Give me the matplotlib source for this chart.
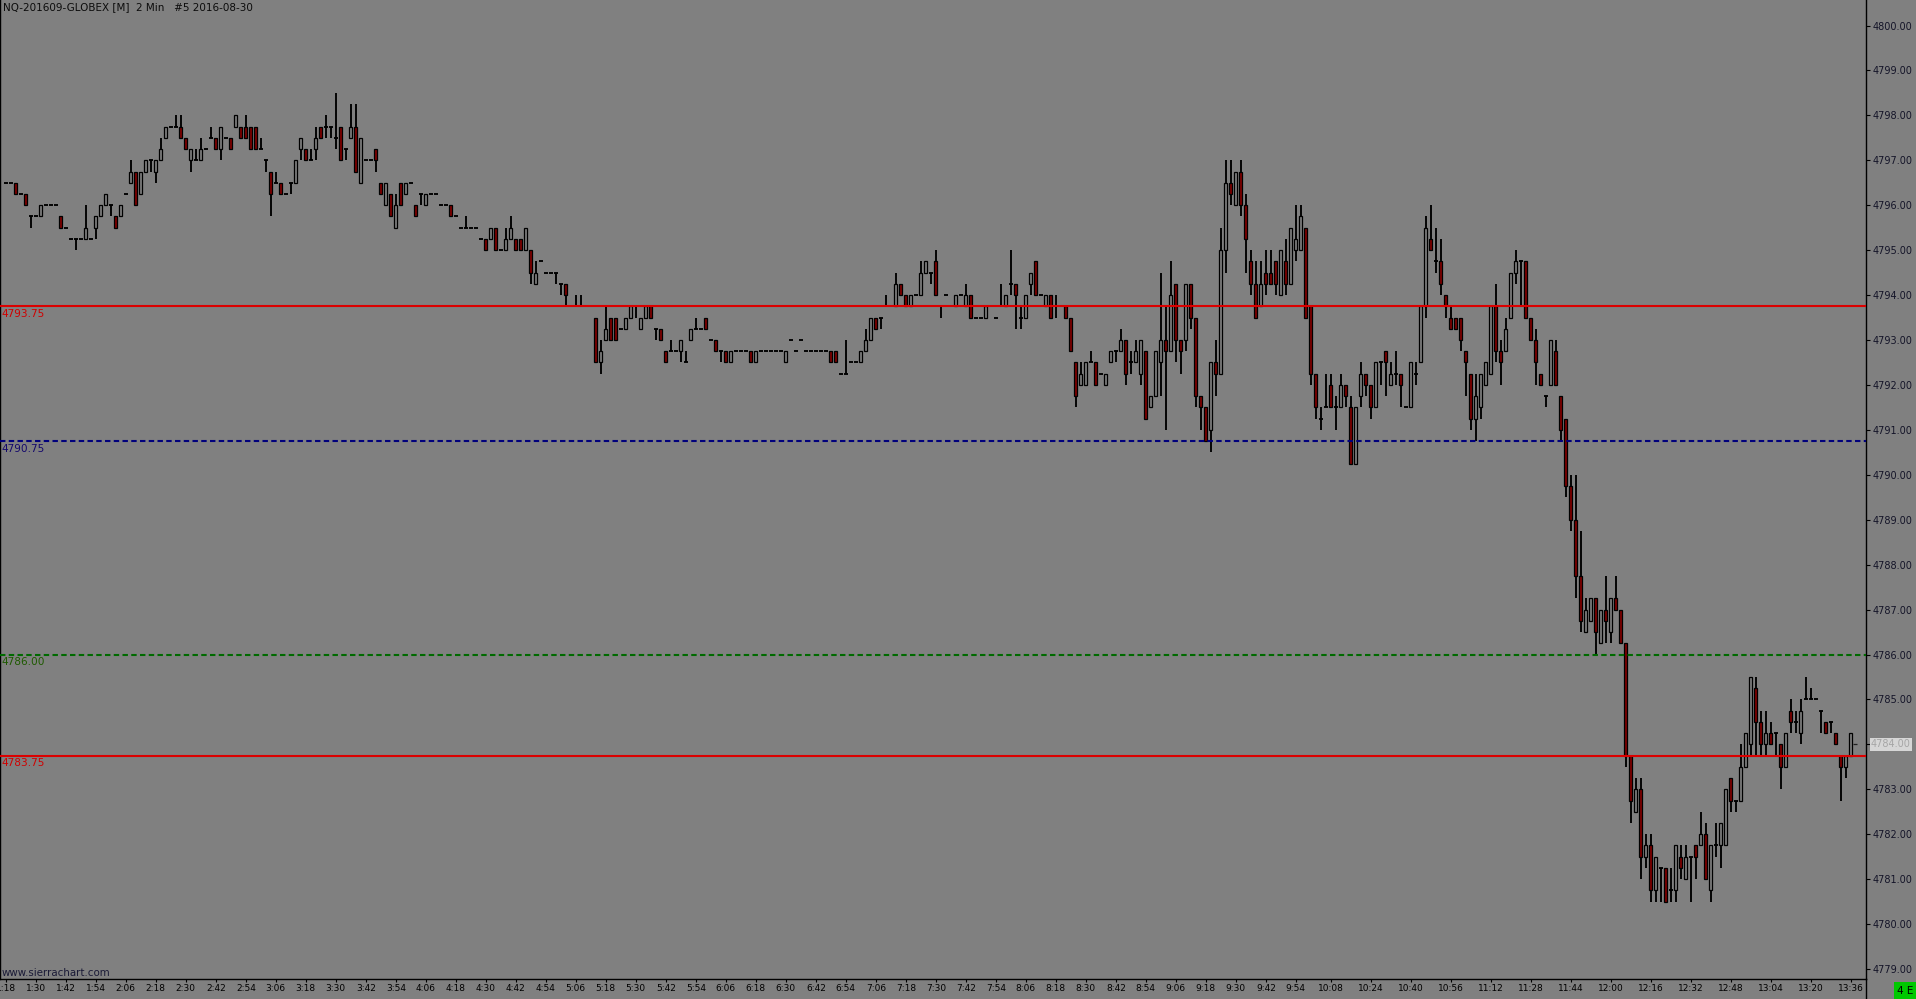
import matplotlib
matplotlib.use('Agg')
import matplotlib.pyplot as plt
from matplotlib.patches import Rectangle
from matplotlib.lines import Line2D
import numpy as np

title = 'NQ-201609-GLOBEX [M]  2 Min   #5 2016-08-30'
first_bar_time = '1:18'
bar_minutes = 2

opens = [
    4796.50, 4796.50, 4796.50, 4796.25, 4796.25, 4795.75, 4795.75, 4795.75, 4796.00, 4796.00,
    4796.00, 4795.75, 4795.50, 4795.25, 4795.25, 4795.25, 4795.25, 4795.25, 4795.50, 4795.75,
    4796.00, 4796.00, 4795.75, 4795.75, 4796.25, 4796.50, 4796.75, 4796.25, 4796.75, 4797.00,
    4796.75, 4797.00, 4797.50, 4797.75, 4797.75, 4797.75, 4797.50, 4797.00, 4797.00, 4797.00,
    4797.25, 4797.50, 4797.50, 4797.25, 4797.50, 4797.50, 4797.75, 4797.75, 4797.75, 4797.75,
    4797.75, 4797.25, 4797.00, 4796.75, 4796.50, 4796.50, 4796.25, 4796.50, 4796.50, 4797.25,
    4797.25, 4797.00, 4797.25, 4797.75, 4797.75, 4797.75, 4797.50, 4797.75, 4797.25, 4797.50,
    4797.75, 4796.50, 4797.00, 4797.00, 4797.25, 4796.50, 4796.00, 4796.25, 4795.50, 4796.50,
    4796.25, 4796.50, 4796.00, 4796.25, 4796.00, 4796.25, 4796.25, 4796.00, 4796.00, 4796.00,
    4795.75, 4795.50, 4795.50, 4795.50, 4795.50, 4795.25, 4795.25, 4795.25, 4795.50, 4795.00,
    4795.00, 4795.25, 4795.25, 4795.25, 4795.00, 4795.00, 4794.25, 4794.75, 4794.50, 4794.50,
    4794.50, 4794.25, 4794.25, 4793.75, 4793.75, 4793.75, 4793.75, 4793.75, 4793.50, 4792.50,
    4793.00, 4793.50, 4793.50, 4793.25, 4793.25, 4793.50, 4793.75, 4793.25, 4793.50, 4793.75,
    4793.25, 4793.25, 4792.75, 4792.75, 4792.75, 4792.75, 4792.50, 4793.00, 4793.25, 4793.25,
    4793.50, 4793.00, 4793.00, 4792.75, 4792.75, 4792.50, 4792.75, 4792.75, 4792.75, 4792.75,
    4792.50, 4792.75, 4792.75, 4792.75, 4792.75, 4792.75, 4792.50, 4793.00, 4792.75, 4793.00,
    4792.75, 4792.75, 4792.75, 4792.75, 4792.75, 4792.75, 4792.75, 4792.25, 4792.25, 4792.50,
    4792.50, 4792.50, 4792.75, 4793.00, 4793.50, 4793.50, 4793.75, 4793.75, 4793.75, 4794.25,
    4794.00, 4793.75, 4794.00, 4794.00, 4794.50, 4794.50, 4794.75, 4793.75, 4794.00, 4793.75,
    4793.75, 4794.00, 4793.75, 4794.00, 4793.50, 4793.50, 4793.50, 4793.75, 4793.50, 4793.75,
    4793.75, 4794.25, 4794.25, 4793.50, 4793.50, 4794.25, 4794.75, 4794.00, 4793.75, 4794.00,
    4793.75, 4793.75, 4793.75, 4793.50, 4792.50, 4792.00, 4792.00, 4792.50, 4792.50, 4792.25,
    4792.00, 4792.50, 4792.75, 4792.75, 4793.00, 4792.50, 4792.50, 4792.25, 4792.75, 4791.50,
    4791.75, 4792.50, 4793.00, 4792.75, 4794.25, 4793.00, 4793.00, 4794.25, 4793.50, 4791.75,
    4791.50, 4791.00, 4792.50, 4792.25, 4795.00, 4796.50, 4796.00, 4796.75, 4796.00, 4794.75,
    4794.25, 4793.75, 4794.50, 4794.50, 4794.75, 4794.00, 4794.75, 4794.25, 4795.00, 4795.00,
    4795.50, 4793.75, 4792.25, 4791.25, 4791.50, 4792.00, 4791.50, 4791.50, 4792.00, 4791.50,
    4790.25, 4791.75, 4792.25, 4792.00, 4791.50, 4792.50, 4792.75, 4792.00, 4792.25, 4792.25,
    4791.50, 4791.50, 4792.25, 4792.50, 4793.75, 4795.25, 4794.75, 4794.75, 4794.00, 4793.50,
    4793.50, 4793.50, 4792.75, 4792.25, 4791.25, 4791.50, 4792.00, 4792.25, 4793.75, 4792.75,
    4792.75, 4793.50, 4794.50, 4794.75, 4794.75, 4793.50, 4793.00, 4792.25, 4791.75, 4792.00,
    4792.75, 4791.75, 4791.25, 4789.75, 4789.00, 4787.75, 4786.50, 4786.75, 4787.25, 4786.25,
    4787.00, 4786.50, 4787.25, 4787.00, 4786.25, 4783.75, 4782.50, 4783.00, 4781.50, 4781.75,
    4780.75, 4781.25, 4781.25, 4780.75, 4780.75, 4781.50, 4781.00, 4781.50, 4781.75, 4781.75,
    4782.00, 4780.75, 4781.75, 4781.75, 4781.75, 4783.25, 4782.75, 4782.75, 4783.50, 4784.00,
    4785.25, 4784.50, 4784.00, 4784.25, 4784.25, 4784.00, 4783.50, 4784.75, 4784.50, 4784.25,
    4785.00, 4785.00, 4785.00, 4784.75, 4784.50, 4784.50, 4784.25, 4783.75, 4783.50, 4783.75,
]

highs = [
    4796.50, 4796.50, 4796.50, 4796.25, 4796.25, 4795.75, 4795.75, 4796.00, 4796.00, 4796.00,
    4796.00, 4795.75, 4795.50, 4795.25, 4795.25, 4795.25, 4796.00, 4795.25, 4795.75, 4796.00,
    4796.25, 4796.00, 4795.75, 4796.00, 4796.25, 4797.00, 4796.75, 4796.75, 4797.00, 4797.00,
    4797.00, 4797.50, 4797.75, 4797.75, 4798.00, 4798.00, 4797.50, 4797.25, 4797.25, 4797.50,
    4797.25, 4797.75, 4797.50, 4797.75, 4797.50, 4797.50, 4798.00, 4797.75, 4798.00, 4797.75,
    4797.75, 4797.50, 4797.00, 4796.75, 4796.75, 4796.50, 4796.25, 4796.50, 4797.00, 4797.50,
    4797.25, 4797.25, 4797.75, 4797.75, 4798.00, 4797.75, 4798.50, 4797.75, 4797.25, 4798.25,
    4798.25, 4797.50, 4797.00, 4797.00, 4797.25, 4796.50, 4796.50, 4796.25, 4796.25, 4796.50,
    4796.50, 4796.50, 4796.00, 4796.25, 4796.25, 4796.25, 4796.25, 4796.00, 4796.00, 4796.00,
    4795.75, 4795.50, 4795.75, 4795.50, 4795.50, 4795.25, 4795.25, 4795.50, 4795.50, 4795.00,
    4795.50, 4795.75, 4795.25, 4795.25, 4795.50, 4795.00, 4794.75, 4794.75, 4794.50, 4794.50,
    4794.50, 4794.25, 4794.25, 4793.75, 4794.00, 4794.00, 4793.75, 4793.75, 4793.50, 4793.00,
    4793.75, 4793.50, 4793.50, 4793.25, 4793.50, 4793.75, 4793.75, 4793.50, 4793.75, 4793.75,
    4793.25, 4793.25, 4792.75, 4793.00, 4792.75, 4793.00, 4792.75, 4793.25, 4793.50, 4793.25,
    4793.50, 4793.00, 4793.00, 4792.75, 4792.75, 4792.75, 4792.75, 4792.75, 4792.75, 4792.75,
    4792.75, 4792.75, 4792.75, 4792.75, 4792.75, 4792.75, 4792.75, 4793.00, 4792.75, 4793.00,
    4792.75, 4792.75, 4792.75, 4792.75, 4792.75, 4792.75, 4792.75, 4792.25, 4793.00, 4792.50,
    4792.50, 4792.75, 4793.25, 4793.50, 4793.50, 4793.50, 4794.00, 4793.75, 4794.50, 4794.25,
    4794.00, 4794.00, 4794.00, 4794.75, 4794.75, 4794.50, 4795.00, 4793.75, 4794.00, 4793.75,
    4794.00, 4794.00, 4794.25, 4794.00, 4793.50, 4793.50, 4793.75, 4793.75, 4793.50, 4794.25,
    4794.00, 4795.00, 4794.25, 4793.75, 4794.00, 4794.50, 4794.75, 4794.00, 4794.00, 4794.00,
    4794.00, 4793.75, 4793.75, 4793.50, 4792.50, 4792.50, 4792.50, 4792.75, 4792.50, 4792.25,
    4792.25, 4792.75, 4792.75, 4793.25, 4793.00, 4792.75, 4793.00, 4793.00, 4792.75, 4791.75,
    4792.75, 4794.50, 4793.75, 4794.75, 4794.25, 4793.00, 4794.25, 4794.25, 4793.50, 4791.75,
    4791.50, 4792.50, 4793.00, 4795.50, 4797.00, 4797.00, 4796.75, 4797.00, 4796.25, 4795.00,
    4794.75, 4794.75, 4795.00, 4795.00, 4794.75, 4795.00, 4795.25, 4795.50, 4796.00, 4796.00,
    4795.50, 4793.75, 4792.25, 4791.50, 4792.25, 4792.25, 4791.75, 4792.25, 4792.00, 4791.75,
    4791.50, 4792.50, 4792.25, 4792.00, 4792.50, 4792.50, 4792.75, 4792.50, 4792.75, 4792.25,
    4791.50, 4792.50, 4792.50, 4793.75, 4795.75, 4796.00, 4795.50, 4795.25, 4794.00, 4793.75,
    4793.50, 4793.50, 4792.75, 4792.25, 4792.25, 4792.25, 4792.50, 4793.75, 4794.25, 4793.00,
    4793.50, 4794.50, 4795.00, 4794.75, 4794.75, 4793.50, 4793.25, 4792.25, 4791.75, 4793.00,
    4793.00, 4791.75, 4791.25, 4790.00, 4790.00, 4788.75, 4787.25, 4787.25, 4787.25, 4787.00,
    4787.75, 4787.25, 4787.75, 4787.00, 4786.25, 4783.75, 4783.25, 4783.25, 4782.00, 4782.00,
    4781.50, 4781.25, 4781.25, 4781.25, 4781.75, 4781.75, 4781.75, 4781.50, 4781.75, 4782.50,
    4782.25, 4781.75, 4782.25, 4782.25, 4783.00, 4783.25, 4782.75, 4784.00, 4784.25, 4785.50,
    4785.50, 4784.75, 4784.75, 4784.50, 4784.25, 4784.00, 4784.25, 4785.00, 4784.75, 4785.00,
    4785.50, 4785.25, 4785.00, 4784.75, 4784.50, 4784.50, 4784.25, 4783.75, 4783.75, 4784.25,
]

lows = [
    4796.50, 4796.50, 4796.25, 4796.25, 4796.00, 4795.50, 4795.75, 4795.75, 4796.00, 4796.00,
    4796.00, 4795.50, 4795.50, 4795.25, 4795.00, 4795.25, 4795.25, 4795.25, 4795.25, 4795.75,
    4796.00, 4795.75, 4795.50, 4795.75, 4796.25, 4796.50, 4796.00, 4796.25, 4796.75, 4796.75,
    4796.50, 4797.00, 4797.50, 4797.75, 4797.75, 4797.50, 4797.25, 4796.75, 4797.00, 4797.00,
    4797.25, 4797.50, 4797.25, 4797.00, 4797.50, 4797.25, 4797.75, 4797.50, 4797.50, 4797.25,
    4797.25, 4797.25, 4796.75, 4795.75, 4796.50, 4796.25, 4796.25, 4796.25, 4796.50, 4797.00,
    4797.00, 4797.00, 4797.00, 4797.50, 4797.50, 4797.50, 4797.25, 4797.00, 4797.00, 4797.50,
    4796.75, 4796.50, 4797.00, 4797.00, 4796.75, 4796.25, 4796.00, 4795.75, 4795.50, 4796.00,
    4796.25, 4796.50, 4795.75, 4796.00, 4796.00, 4796.25, 4796.25, 4796.00, 4796.00, 4795.75,
    4795.75, 4795.50, 4795.50, 4795.50, 4795.50, 4795.25, 4795.00, 4795.25, 4795.00, 4795.00,
    4795.00, 4795.25, 4795.00, 4795.00, 4795.00, 4794.25, 4794.25, 4794.75, 4794.50, 4794.50,
    4794.25, 4794.00, 4793.75, 4793.75, 4793.75, 4793.75, 4793.75, 4793.75, 4792.50, 4792.25,
    4793.00, 4793.00, 4793.00, 4793.25, 4793.25, 4793.50, 4793.50, 4793.25, 4793.50, 4793.50,
    4793.00, 4793.00, 4792.50, 4792.75, 4792.75, 4792.50, 4792.50, 4793.00, 4793.25, 4793.25,
    4793.25, 4793.00, 4792.75, 4792.50, 4792.50, 4792.50, 4792.75, 4792.75, 4792.75, 4792.50,
    4792.50, 4792.75, 4792.75, 4792.75, 4792.75, 4792.75, 4792.50, 4793.00, 4792.75, 4793.00,
    4792.75, 4792.75, 4792.75, 4792.75, 4792.75, 4792.50, 4792.50, 4792.25, 4792.25, 4792.50,
    4792.50, 4792.50, 4792.75, 4793.00, 4793.25, 4793.25, 4793.75, 4793.75, 4793.75, 4794.00,
    4793.75, 4793.75, 4794.00, 4794.00, 4794.50, 4794.25, 4794.00, 4793.50, 4794.00, 4793.75,
    4793.75, 4794.00, 4793.75, 4793.50, 4793.50, 4793.50, 4793.50, 4793.75, 4793.50, 4793.75,
    4793.75, 4794.00, 4793.25, 4793.25, 4793.50, 4794.00, 4794.00, 4794.00, 4793.75, 4793.50,
    4793.50, 4793.75, 4793.50, 4792.75, 4791.50, 4792.00, 4792.00, 4792.50, 4792.00, 4792.25,
    4792.00, 4792.50, 4792.50, 4792.75, 4792.00, 4792.25, 4792.50, 4792.00, 4791.25, 4791.50,
    4791.75, 4791.75, 4791.00, 4792.75, 4792.50, 4792.25, 4792.75, 4793.25, 4791.50, 4791.00,
    4790.75, 4790.50, 4791.75, 4792.25, 4794.50, 4796.00, 4796.00, 4795.75, 4794.50, 4794.00,
    4793.50, 4793.75, 4794.00, 4794.25, 4794.00, 4794.00, 4794.00, 4794.25, 4794.75, 4795.00,
    4793.50, 4792.00, 4791.25, 4791.00, 4791.50, 4791.50, 4791.00, 4791.50, 4791.50, 4790.25,
    4790.25, 4791.50, 4791.75, 4791.25, 4791.50, 4792.00, 4791.75, 4792.00, 4792.00, 4791.50,
    4791.50, 4791.50, 4792.00, 4792.50, 4793.50, 4795.00, 4794.50, 4794.00, 4793.50, 4793.25,
    4793.25, 4792.75, 4791.75, 4791.00, 4790.75, 4791.25, 4792.00, 4792.25, 4792.50, 4792.00,
    4792.75, 4793.50, 4794.25, 4793.75, 4793.50, 4793.00, 4792.00, 4792.00, 4791.50, 4792.00,
    4792.00, 4790.75, 4789.50, 4788.75, 4787.25, 4786.50, 4786.50, 4786.75, 4786.00, 4786.25,
    4786.25, 4786.25, 4787.00, 4786.25, 4783.50, 4782.25, 4782.50, 4781.00, 4781.25, 4780.50,
    4780.50, 4780.50, 4780.50, 4780.50, 4780.50, 4781.00, 4781.00, 4780.50, 4781.00, 4781.75,
    4781.00, 4780.50, 4781.50, 4781.25, 4781.75, 4782.50, 4782.50, 4782.75, 4783.50, 4783.75,
    4783.75, 4783.75, 4783.75, 4784.00, 4783.75, 4783.00, 4783.50, 4784.25, 4784.25, 4784.00,
    4785.00, 4785.00, 4785.00, 4784.25, 4784.25, 4784.25, 4784.00, 4782.75, 4783.25, 4783.75,
]

closes = [
    4796.50, 4796.50, 4796.25, 4796.25, 4796.00, 4795.75, 4795.75, 4796.00, 4796.00, 4796.00,
    4796.00, 4795.50, 4795.50, 4795.25, 4795.25, 4795.25, 4795.50, 4795.25, 4795.75, 4796.00,
    4796.25, 4796.00, 4795.50, 4796.00, 4796.25, 4796.75, 4796.00, 4796.75, 4797.00, 4797.00,
    4797.00, 4797.25, 4797.75, 4797.75, 4797.75, 4797.50, 4797.25, 4797.25, 4797.00, 4797.25,
    4797.25, 4797.50, 4797.25, 4797.75, 4797.50, 4797.25, 4798.00, 4797.50, 4797.50, 4797.25,
    4797.25, 4797.25, 4797.00, 4796.25, 4796.50, 4796.25, 4796.25, 4796.50, 4797.00, 4797.50,
    4797.00, 4797.00, 4797.50, 4797.50, 4797.75, 4797.75, 4797.50, 4797.00, 4797.25, 4797.75,
    4796.75, 4797.50, 4797.00, 4797.00, 4797.00, 4796.25, 4796.50, 4795.75, 4796.00, 4796.00,
    4796.50, 4796.50, 4795.75, 4796.25, 4796.25, 4796.25, 4796.25, 4796.00, 4796.00, 4795.75,
    4795.75, 4795.50, 4795.50, 4795.50, 4795.50, 4795.25, 4795.00, 4795.50, 4795.00, 4795.00,
    4795.25, 4795.50, 4795.00, 4795.00, 4795.50, 4794.50, 4794.50, 4794.75, 4794.50, 4794.50,
    4794.50, 4794.25, 4794.00, 4793.75, 4793.75, 4793.75, 4793.75, 4793.75, 4792.50, 4792.75,
    4793.25, 4793.00, 4793.00, 4793.25, 4793.50, 4793.75, 4793.75, 4793.50, 4793.75, 4793.50,
    4793.25, 4793.00, 4792.50, 4792.75, 4792.75, 4793.00, 4792.50, 4793.25, 4793.25, 4793.25,
    4793.25, 4793.00, 4792.75, 4792.75, 4792.50, 4792.75, 4792.75, 4792.75, 4792.75, 4792.50,
    4792.75, 4792.75, 4792.75, 4792.75, 4792.75, 4792.75, 4792.75, 4793.00, 4792.75, 4793.00,
    4792.75, 4792.75, 4792.75, 4792.75, 4792.75, 4792.50, 4792.50, 4792.25, 4792.25, 4792.50,
    4792.50, 4792.75, 4793.00, 4793.50, 4793.25, 4793.50, 4793.75, 4793.75, 4794.25, 4794.00,
    4793.75, 4794.00, 4794.00, 4794.50, 4794.75, 4794.50, 4794.00, 4793.75, 4794.00, 4793.75,
    4794.00, 4794.00, 4794.00, 4793.50, 4793.50, 4793.50, 4793.75, 4793.75, 4793.50, 4793.75,
    4794.00, 4794.25, 4794.00, 4793.50, 4794.00, 4794.50, 4794.00, 4794.00, 4794.00, 4793.50,
    4793.75, 4793.75, 4793.50, 4792.75, 4791.75, 4792.25, 4792.50, 4792.50, 4792.00, 4792.25,
    4792.25, 4792.75, 4792.75, 4793.00, 4792.25, 4792.50, 4792.75, 4793.00, 4791.25, 4791.75,
    4792.75, 4793.00, 4792.75, 4794.00, 4793.00, 4792.75, 4794.25, 4793.50, 4791.75, 4791.50,
    4790.75, 4792.50, 4792.25, 4795.00, 4796.50, 4796.25, 4796.75, 4796.00, 4795.25, 4794.25,
    4793.50, 4794.25, 4794.25, 4794.25, 4794.25, 4795.00, 4794.25, 4795.50, 4795.25, 4795.75,
    4793.50, 4792.25, 4791.50, 4791.25, 4791.50, 4791.50, 4791.50, 4792.00, 4791.75, 4790.25,
    4791.50, 4792.25, 4792.00, 4791.50, 4792.50, 4792.50, 4792.50, 4792.25, 4792.25, 4792.00,
    4791.50, 4792.50, 4792.25, 4793.75, 4795.50, 4795.00, 4794.75, 4794.25, 4793.75, 4793.25,
    4793.25, 4793.00, 4792.50, 4791.25, 4791.75, 4792.25, 4792.50, 4793.75, 4792.75, 4792.50,
    4793.25, 4794.50, 4794.75, 4794.75, 4793.50, 4793.00, 4792.50, 4792.00, 4791.75, 4793.00,
    4792.00, 4791.00, 4789.75, 4789.00, 4787.75, 4786.75, 4787.00, 4787.25, 4786.50, 4787.00,
    4786.75, 4787.25, 4787.00, 4786.25, 4783.75, 4782.75, 4783.00, 4781.50, 4781.75, 4780.75,
    4781.50, 4781.25, 4780.50, 4780.75, 4781.75, 4781.25, 4781.50, 4781.50, 4781.50, 4782.00,
    4781.00, 4781.75, 4781.75, 4782.25, 4783.00, 4782.75, 4782.75, 4783.50, 4784.25, 4785.50,
    4784.50, 4784.00, 4784.25, 4784.00, 4784.25, 4783.50, 4784.25, 4784.50, 4784.50, 4784.75,
    4785.00, 4785.00, 4785.00, 4784.75, 4784.25, 4784.50, 4784.00, 4783.50, 4783.75, 4784.25,
]

time_labels = [
    '1:18', '1:30', '1:42', '1:54', '2:06', '2:18', '2:30', '2:42', '2:54', '3:06',
    '3:18', '3:30', '3:42', '3:54', '4:06', '4:18', '4:30', '4:42', '4:54', '5:06',
    '5:18', '5:30', '5:42', '5:54', '6:06', '6:18', '6:30', '6:42', '6:54', '7:06',
    '7:18', '7:30', '7:42', '7:54', '8:06', '8:18', '8:30', '8:42', '8:54', '9:06',
    '9:18', '9:30', '9:42', '9:54', '10:08', '10:24', '10:40', '10:56', '11:12', '11:28',
    '11:44', '12:00', '12:16', '12:32', '12:48', '13:04', '13:20', '13:36',
]

price_ticks = [4779, 4780, 4781, 4782, 4783, 4784, 4785, 4786, 4787, 4788, 4789,
               4790, 4791, 4792, 4793, 4794, 4795, 4796, 4797, 4798, 4799, 4800]

level_prices = [4793.75, 4790.75, 4786.00, 4783.75]
last_price = 4784.00

# styles
BG = '#808080'
DOWN = '#800000'
level_styles = [
    dict(color='#dc0000', ls='-', text='#d00000'),
    dict(color='#00007c', ls=(0, (2.6, 1.6)), text='#14086c'),
    dict(color='#006a00', ls=(0, (2.6, 1.6)), text='#1e5a00'),
    dict(color='#dc0000', ls='-', text='#d00000'),
]

W, H = 1916, 999
AX_RIGHT = 1866
AX_BOTTOM = 979
PX_PER_BAR = 5.0
FIRST_X = 5.83
PX_PER_POINT = 44.93
Y_4800 = 25.5


def to_minutes(t):
    hh, mm = t.split(':')
    return int(hh) * 60 + int(mm)


o = np.array(opens)
h = np.array(highs)
l = np.array(lows)
c = np.array(closes)
x = np.arange(len(o))

fig = plt.figure(figsize=(W / 100, H / 100), dpi=100, facecolor=BG)
ax = fig.add_axes([0, (H - AX_BOTTOM) / H, AX_RIGHT / W, AX_BOTTOM / H], facecolor=BG)

# candles
wick = h > l
ax.vlines(x[wick], l[wick], h[wick], color='black', lw=1.35, zorder=2)
body = c != o
fills = np.where(c > o, BG, DOWN)
ax.bar(x[body], np.abs(c - o)[body], bottom=np.minimum(o, c)[body], width=0.66,
       color=fills[body], edgecolor='black', linewidth=0.9, zorder=3)
doji = ~body
ax.hlines(o[doji], x[doji] - 0.42, x[doji] + 0.42, color='black', lw=1.35, zorder=3)

# horizontal levels
for price, st in zip(level_prices, level_styles):
    ax.axhline(price, color=st['color'], lw=1.5, ls=st['ls'], zorder=4)
    ax.annotate(f'{price:.2f}', xy=(0, price), xycoords=('axes fraction', 'data'),
                xytext=(1.2, -2.0), textcoords='offset points', ha='left', va='top',
                fontsize=7.6, color=st['text'], zorder=5)

# current price tick and label
ax.hlines(last_price, x[-1] + 0.5, x[-1] + 1.25, color='#202020', lw=0.9, zorder=4)
ax.annotate(f'{last_price:.2f}', xy=(1, last_price), xycoords=('axes fraction', 'data'),
            xytext=(3.6, 0), textcoords='offset points', ha='left', va='center',
            fontsize=7, color='#a6a6a6', annotation_clip=False, zorder=6,
            bbox=dict(boxstyle='square,pad=0.12', fc='#d6d6d6', ec='none'))

# limits from pixel geometry
x_left = (0 - FIRST_X) / PX_PER_BAR
x_right = (AX_RIGHT - FIRST_X) / PX_PER_BAR
y_top = 4800 + Y_4800 / PX_PER_POINT
y_bottom = 4800 - (AX_BOTTOM - Y_4800) / PX_PER_POINT
ax.set_xlim(x_left, x_right)
ax.set_ylim(y_bottom, y_top)

# right price axis
ax.yaxis.tick_right()
ax.set_yticks(price_ticks)
ax.set_yticklabels(['' if p == last_price else f'{p:.2f}' for p in price_ticks])
ax.tick_params(axis='y', direction='out', length=3, width=0.8, pad=1.5,
               labelsize=7, color='black', labelcolor='#141428')

# time axis
start = to_minutes(first_bar_time)
tick_pos = [(to_minutes(t) - start) / bar_minutes for t in time_labels]
ax.set_xticks(tick_pos)
ax.set_xticklabels(time_labels)
ax.tick_params(axis='x', direction='out', length=2, width=0.8, pad=1.5,
               labelsize=6.5, color='black', labelcolor='black')

ax.spines['top'].set_visible(False)
for s in ['left', 'right', 'bottom']:
    ax.spines[s].set_color('black')
    ax.spines[s].set_linewidth(1.0)

# right border continues through the time-axis row
fig.add_artist(Line2D([AX_RIGHT / W, AX_RIGHT / W], [0, (H - AX_BOTTOM) / H],
                      color='black', lw=1.0))

fig.text(3 / W, 1 - 7 / H, title, ha='left', va='center', fontsize=7.5, color='#0c0c0c')
fig.text(2 / W, 1 - 973 / H, 'www.sierrachart.com', ha='left', va='center',
         fontsize=7.4, color='#1a1a36')

fig.add_artist(Rectangle((1894 / W, 0), 22 / W, 17 / H, transform=fig.transFigure,
                         facecolor='#00c800', edgecolor='none'))
fig.text(1905 / W, 8.5 / H, '4 E', ha='center', va='center', fontsize=7.5, color='black')

fig.savefig('out.png', dpi=100, facecolor=BG)
